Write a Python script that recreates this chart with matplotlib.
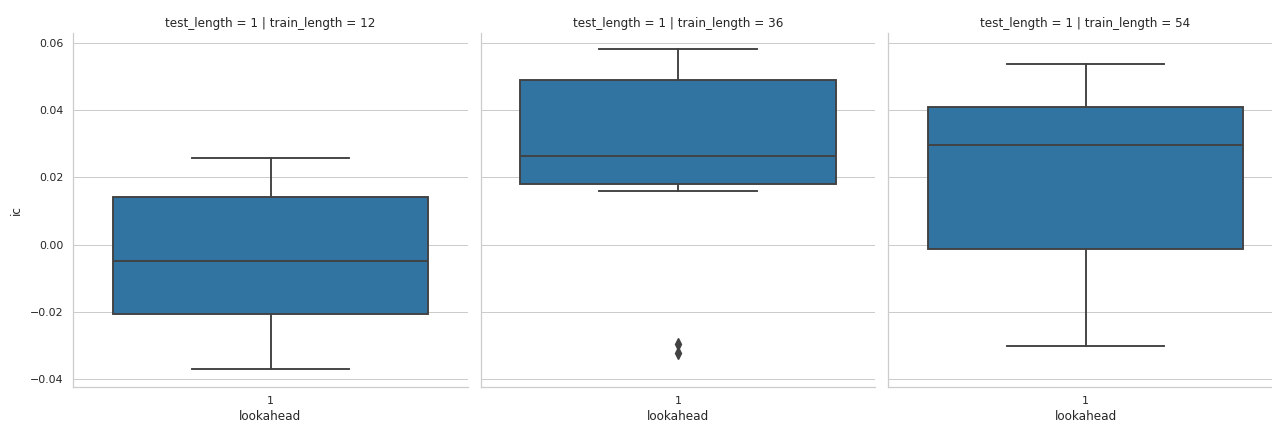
import matplotlib
matplotlib.use("Agg")
import matplotlib.pyplot as plt

# Information coefficient summaries per training window
train_lengths = [12, 36, 54]
test_length = 1
lookahead = [1]

whisker_low = [-0.0370, 0.0159, -0.0301]
q1 = [-0.0205, 0.0179, -0.0013]
median = [-0.0049, 0.0262, 0.0295]
q3 = [0.0143, 0.0488, 0.0409]
whisker_high = [0.0258, 0.0580, 0.0537]
outliers = [[], [-0.0296, -0.0323], []]

PX = 0.72  # points per pixel at dpi 100
text_col = "#262626"
grid_col = "#cccccc"
box_col = "#3274a1"
line_col = "#424242"
lw = 1.9 * PX

plt.rcParams["font.family"] = "DejaVu Sans"

fig = plt.figure(figsize=(12.72, 4.24), dpi=100)
W, H = 1272, 424
lefts = [73.3, 480.7, 888.3]
ax_w = 394.4
top, bottom = 33.3, 386.7

axes = []
for i, tl in enumerate(train_lengths):
    ax = fig.add_axes([lefts[i] / W, 1 - bottom / H, ax_w / W, (bottom - top) / H],
                      sharey=axes[0] if axes else None)
    axes.append(ax)
    stats = [dict(med=median[i], q1=q1[i], q3=q3[i],
                  whislo=whisker_low[i], whishi=whisker_high[i],
                  fliers=outliers[i], label=str(lookahead[0]))]
    ax.bxp(stats, positions=[0], widths=0.8, patch_artist=True,
           boxprops=dict(facecolor=box_col, edgecolor=line_col, linewidth=lw),
           medianprops=dict(color=line_col, linewidth=lw),
           whiskerprops=dict(color=line_col, linewidth=lw),
           capprops=dict(color=line_col, linewidth=lw),
           flierprops=dict(marker="d", markersize=8 * PX, markerfacecolor=line_col,
                           markeredgecolor=line_col, linestyle="none"),
           zorder=2)
    ax.set_xlim(-0.5, 0.5)
    ax.set_axisbelow(True)
    ax.grid(axis="y", color=grid_col, linewidth=1 * PX)
    ax.grid(axis="x", visible=False)
    for s in ("top", "right"):
        ax.spines[s].set_visible(False)
    for s in ("left", "bottom"):
        ax.spines[s].set_color(grid_col)
        ax.spines[s].set_linewidth(1.25 * PX)
    ax.tick_params(axis="both", length=0, labelsize=11 * PX, labelcolor=text_col,
                   pad=9.5 * PX)
    ax.set_xticks([0])
    ax.set_xticklabels([str(lookahead[0])])
    ax.set_xlabel("lookahead", fontsize=12 * PX, color=text_col, labelpad=4 * PX)
    ax.set_title(f"test_length = {test_length} | train_length = {tl}",
                 fontsize=12 * PX, color=text_col, pad=6 * PX)
    if i == 0:
        ax.set_ylabel("ic", fontsize=12 * PX, color=text_col, labelpad=7 * PX)
    else:
        ax.tick_params(axis="y", labelleft=False)

axes[0].set_yticks([-0.04, -0.02, 0.00, 0.02, 0.04, 0.06])
axes[0].set_yticklabels(["\u22120.04", "\u22120.02", "0.00", "0.02", "0.04", "0.06"])
axes[0].set_ylim(-0.0422, 0.0628)

fig.savefig("out.png", dpi=100, facecolor="white")
